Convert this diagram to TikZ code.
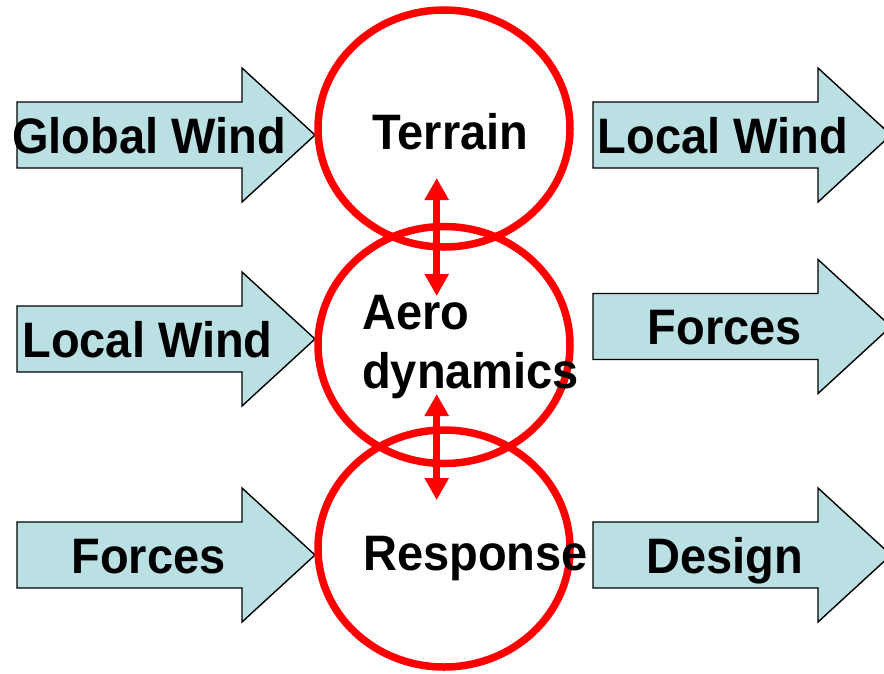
\documentclass[tikz,border=0pt]{standalone}
\usepackage{fontspec}
\setmainfont{Liberation Sans}
\usetikzlibrary{shapes.geometric, arrows.meta}
\definecolor{windblue}{RGB}{187,224,227}

\begin{document}
\begin{tikzpicture}[
                    x=1pt, y=-1pt,
                    font=\bfseries\fontsize{47}{56}\selectfont,
                    flow/.style={draw=black, line width=1.4pt, fill=windblue, line join=miter},
                    stage/.style={ellipse, draw=red, line width=7.5pt, minimum width=252pt, minimum height=237pt, inner sep=0pt},
                    lbl/.style={inner sep=0pt, anchor=base, yscale=1.06, transform shape},
                    link/.style={draw=red, line width=6.5pt, {Triangle[length=22pt,width=23pt]}-{Triangle[length=22pt,width=23pt]}}
                ]
                    \useasboundingbox (0,0) rectangle (884,673);
                    % block arrows, left column and right column
                    \foreach \ax/\ay in {17/135, 17/339, 17/555, 593/135, 593/326.5, 593/555}
                        \path[flow] (\ax,\ay-33) -- ++(225,0) -- ++(0,-34) -- (\ax+298,\ay)
                            -- (\ax+225,\ay+67) -- ++(0,-34) -- (\ax,\ay+33) -- cycle;
                    \node[stage] (T) at (444,128.5) {};
                    \node[stage] (A) at (444,345) {};
                    \node[stage] (R) at (444,548.5) {};
                    \coordinate (T1) at (436.7,178);
                    \coordinate (A1) at (436.7,296);
                    \coordinate (A2) at (436.7,394);
                    \coordinate (R1) at (436.7,500);
                    \draw[link] (T1) -- (A1);
                    \draw[link] (A2) -- (R1);
                    \node[lbl] (GW) at (149,153) {Global Wind};
                    \node[lbl] (LWin) at (147.5,357) {Local Wind};
                    \node[lbl] (Fin) at (148.5,573) {Forces};
                    \node[lbl] (Tt) at (450.5,149) {Terrain};
                    \node[lbl, anchor=base west, text width=240pt, align=left] (At) at (362,329) {Aero\\dynamics};
                    \node[lbl, anchor=base west] (Rt) at (363,570) {Response};
                    \node[lbl] (LWout) at (723,153) {Local Wind};
                    \node[lbl] (Fout) at (725,344) {Forces};
                    \node[lbl] (D) at (724.5,573) {Design};
                \end{tikzpicture}
\end{document}
